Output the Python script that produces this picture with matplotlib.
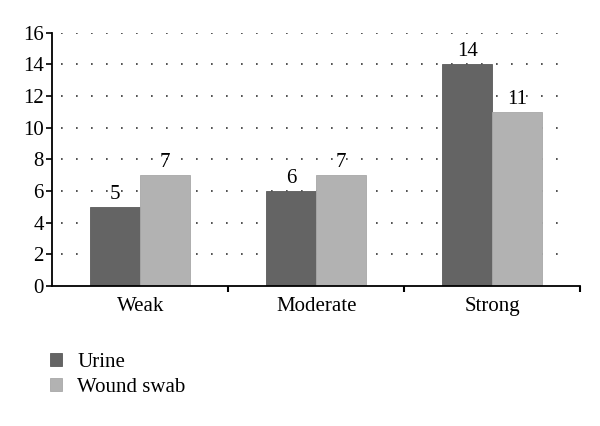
import numpy as np
import matplotlib
matplotlib.use('Agg')
import matplotlib.pyplot as plt

plt.rcParams['font.family'] = ['Liberation Serif', 'DejaVu Serif']

categories = ['Weak', 'Moderate', 'Strong']
urine = [5, 6, 14]
wound_swab = [7, 7, 11]
series_names = ['Urine', 'Wound swab']
colors = ['#646464', '#b2b2b2']

fig = plt.figure(figsize=(6, 4.26), dpi=100)
ax = fig.add_axes([0.087, 0.329, 0.88, 0.594])

x = np.arange(len(categories))
w = 0.284
fs = 15

# dotted gridlines
for yv in range(2, 17, 2):
    ax.plot([-0.45, 2.4], [yv, yv], color='#333333', linestyle=(0, (1, 8)),
            linewidth=1.2, zorder=0)

b1 = ax.bar(x - w / 2, urine, w, color=colors[0], edgecolor='#5a5a5a',
            linewidth=0.6, label=series_names[0], zorder=2)
b2 = ax.bar(x + w / 2, wound_swab, w, color=colors[1], edgecolor='#a8a8a8',
            linewidth=0.6, label=series_names[1], zorder=2)

for bars, vals in ((b1, urine), (b2, wound_swab)):
    for r, v in zip(bars, vals):
        ax.text(r.get_x() + r.get_width() / 2, v + 0.2, str(v),
                ha='center', va='bottom', fontsize=fs)

ax.set_xlim(-0.5, 2.5)
ax.set_ylim(0, 16)
ax.set_yticks(range(0, 17, 2))
ax.set_xticks(x)
ax.set_xticklabels(categories)
ax.set_xticks([0.5, 1.5, 2.5], minor=True)
ax.tick_params(axis='x', which='major', length=0, pad=8, labelsize=fs)
ax.tick_params(axis='x', which='minor', length=4, width=1.5, direction='out')
ax.tick_params(axis='y', length=4, width=1.2, labelsize=fs, pad=2)

for s in ['top', 'right']:
    ax.spines[s].set_visible(False)
for s in ['left', 'bottom']:
    ax.spines[s].set_linewidth(1.3)

fig.legend(handles=[b1, b2], labels=series_names, loc='upper left',
           bbox_to_anchor=(0.052, 0.216), frameon=False, fontsize=fs,
           handlelength=0.6, handleheight=0.6, handletextpad=0.7,
           labelspacing=0.3)

fig.savefig('out.png', dpi=100)
